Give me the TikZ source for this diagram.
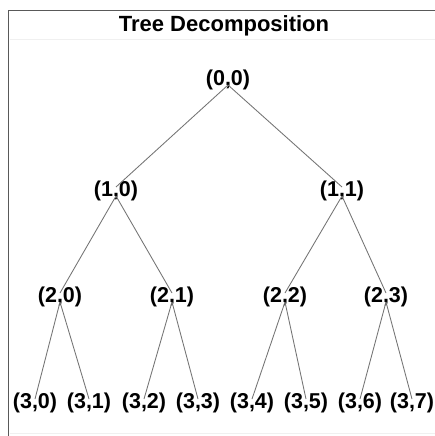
\documentclass[tikz,border=0pt]{standalone}
\usepackage{fontspec}
\setmainfont{Liberation Sans}
\begin{document}
\begin{tikzpicture}[x=1pt,y=-1pt,
  lbl/.style={font=\bfseries\fontsize{21.5}{24}\selectfont, inner sep=0pt},
  heading/.style={font=\bfseries\fontsize{22}{26}\selectfont, inner sep=0pt},
  branch/.style={draw=black!55, line width=0.85pt},
  frameline/.style={draw=black!65, line width=1.4pt},
  faintline/.style={draw=black!6, line width=0.8pt}]
\useasboundingbox (0,0) rectangle (435,436);
\fill[white] (0,0) rectangle (435,436);

% panel frame and title rule
\draw[frameline] (8.5,437) -- (8.5,10.5) -- (436,10.5);
\draw[faintline] (9.5,39.5) -- (435,39.5);
\draw[faintline] (9.5,433.5) -- (435,433.5);

\node[heading] (title) at (224,26) {Tree Decomposition};

% tree nodes
\node[lbl] (n00) at (228,80) {(0,0)};
\node[lbl] (n10) at (116,191) {(1,0)};
\node[lbl] (n11) at (342,191) {(1,1)};
\node[lbl] (n20) at (60,297) {(2,0)};
\node[lbl] (n21) at (172,297) {(2,1)};
\node[lbl] (n22) at (285,297) {(2,2)};
\node[lbl] (n23) at (386,297) {(2,3)};
\node[lbl] (n30) at (35,403) {(3,0)};
\node[lbl] (n31) at (89,403) {(3,1)};
\node[lbl] (n32) at (144,403) {(3,2)};
\node[lbl] (n33) at (198,403) {(3,3)};
\node[lbl] (n34) at (252,403) {(3,4)};
\node[lbl] (n35) at (306,403) {(3,5)};
\node[lbl] (n36) at (360,403) {(3,6)};
\node[lbl] (n37) at (412,403) {(3,7)};

% branches, comma to comma
\foreach \p/\c in {n00/n10, n00/n11,
                   n10/n20, n10/n21, n11/n22, n11/n23,
                   n20/n30, n20/n31, n21/n32, n21/n33,
                   n22/n34, n22/n35, n23/n36, n23/n37}
  \draw[branch] ([yshift=-5pt]\p.center) -- ([yshift=4pt]\c.center);
\end{tikzpicture}
\end{document}
